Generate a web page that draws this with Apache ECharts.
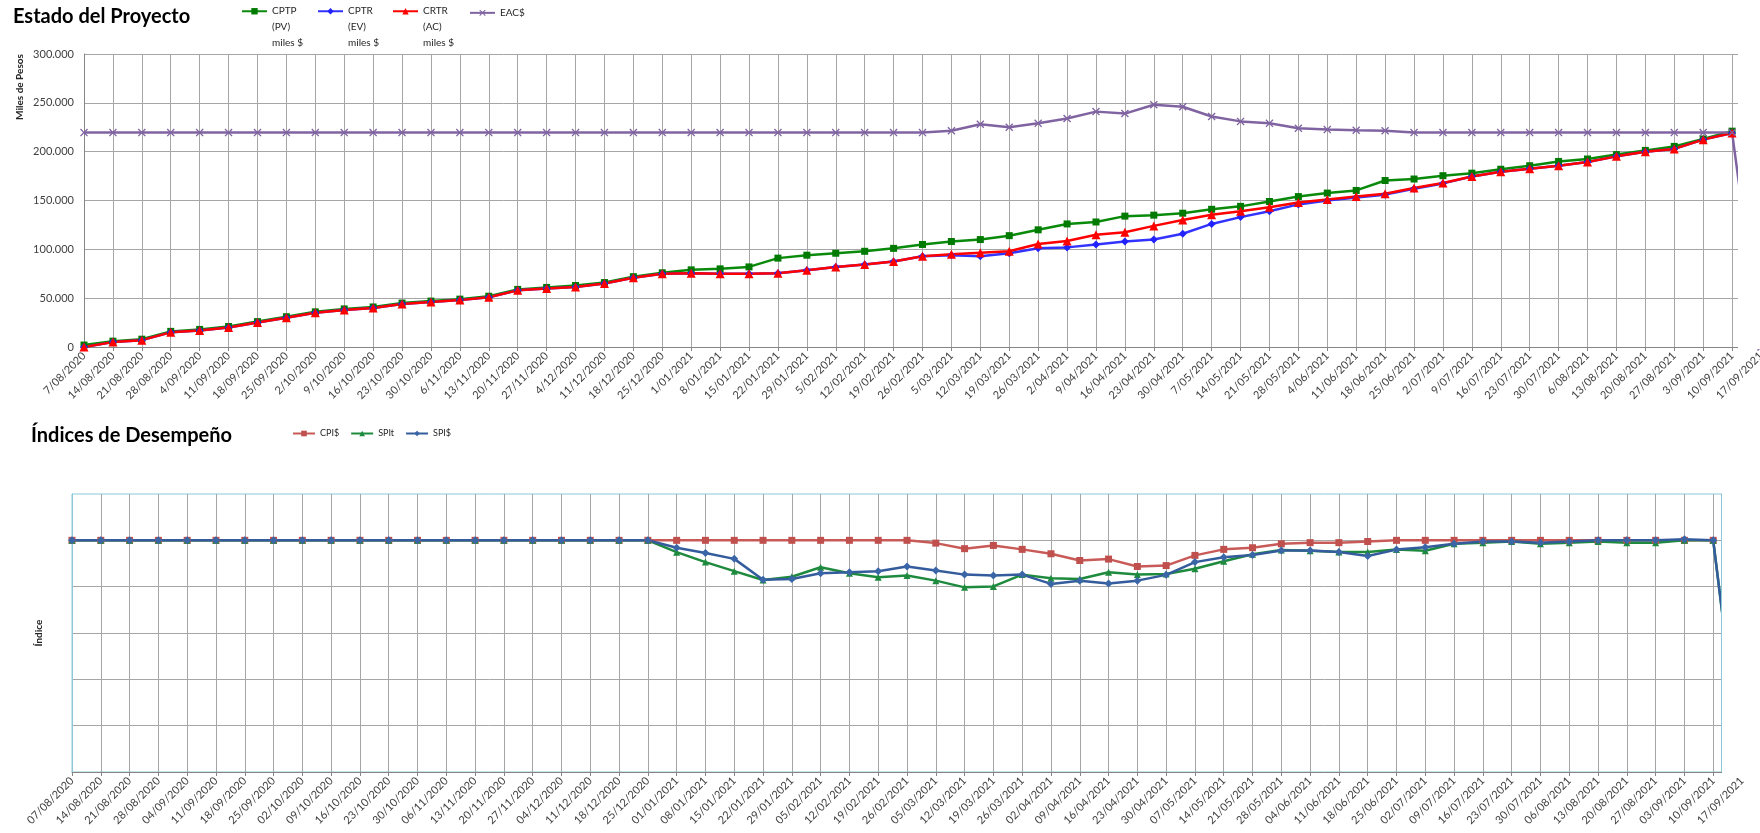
<!DOCTYPE html>
<html>
<head>
<meta charset="utf-8">
<script src="https://cdn.jsdelivr.net/npm/echarts@6/dist/echarts.min.js"></script>
<style>
html,body{margin:0;padding:0;background:#fff;}
#chart{width:1760px;height:833px;}
</style>
</head>
<body>
<div id="chart"></div>
<script>
const fechas = ['07/08/2020','14/08/2020','21/08/2020','28/08/2020','04/09/2020','11/09/2020','18/09/2020','25/09/2020','02/10/2020','09/10/2020','16/10/2020','23/10/2020','30/10/2020','06/11/2020','13/11/2020','20/11/2020','27/11/2020','04/12/2020','11/12/2020','18/12/2020','25/12/2020','01/01/2021','08/01/2021','15/01/2021','22/01/2021','29/01/2021','05/02/2021','12/02/2021','19/02/2021','26/02/2021','05/03/2021','12/03/2021','19/03/2021','26/03/2021','02/04/2021','09/04/2021','16/04/2021','23/04/2021','30/04/2021','07/05/2021','14/05/2021','21/05/2021','28/05/2021','04/06/2021','11/06/2021','18/06/2021','25/06/2021','02/07/2021','09/07/2021','16/07/2021','23/07/2021','30/07/2021','06/08/2021','13/08/2021','20/08/2021','27/08/2021','03/09/2021','10/09/2021','17/09/2021'];

// Estado del Proyecto (miles $)
const cptp = [2000,6000,8000,16000,18000,21000,26000,31000,36000,39000,41000,45000,47000,49000,52000,59000,61000,63000,66000,72000,76000,79000,80000,82000,91000,94000,96000,98000,101000,105000,108000,110000,114000,120000,126000,128000,134000,135000,137000,141000,144000,149000,154000,157600,160300,170500,172000,175400,178000,182000,185600,190000,192500,197000,201300,205400,213000,221000,null];
const cptr = [0,5000,7000,15000,17000,20000,25000,30000,35000,38000,40000,44000,46000,48000,51000,58000,60000,61500,65000,71000,75000,75500,75000,75000,75500,78500,82000,84500,87500,93000,94000,93000,96000,101000,102000,105000,108000,110000,116000,126000,133000,139000,146000,150000,153000,156000,162000,167500,174600,179500,182500,185600,189400,195200,200000,202800,212300,219200,null];
const crtr = [0,5000,7000,15000,17000,20000,25000,30000,35000,38000,40000,44000,46000,48000,51000,58000,60000,61500,65000,71000,75000,75500,75000,75000,75500,78500,82000,84500,87500,93000,95000,96500,98000,105500,108500,115000,117500,124000,130000,135500,139000,143000,148000,151000,154000,157000,162700,167900,174600,179500,182500,185600,189400,195200,200000,202800,212300,219200,null];
const eac = [219500,219500,219500,219500,219500,219500,219500,219500,219500,219500,219500,219500,219500,219500,219500,219500,219500,219500,219500,219500,219500,219500,219500,219500,219500,219500,219500,219500,219500,219500,221500,228000,225000,229000,234000,241000,239000,248000,246000,236000,231000,229000,224000,222600,222000,221500,219500,219500,219500,219500,219500,219500,219500,219500,219500,219500,219500,219500,0];

// Índices de Desempeño
const cpi = [1,1,1,1,1,1,1,1,1,1,1,1,1,1,1,1,1,1,1,1,1,1,1,1,1,1,1,1,1,1,0.988,0.964,0.978,0.961,0.942,0.913,0.919,0.887,0.891,0.935,0.961,0.968,0.985,0.99,0.99,0.995,1,1,1,1,1,1,1,1,1,1,1,1,null];
const spit = [1,1,1,1,1,1,1,1,1,1,1,1,1,1,1,1,1,1,1,1,1,0.949,0.906,0.867,0.829,0.843,0.884,0.858,0.841,0.848,0.826,0.797,0.801,0.852,0.836,0.833,0.862,0.852,0.855,0.877,0.91,0.94,0.958,0.955,0.95,0.95,0.96,0.955,0.985,0.99,0.995,0.985,0.99,0.995,0.99,0.99,1,1,0];
const spis = [1,1,1,1,1,1,1,1,1,1,1,1,1,1,1,1,1,1,1,1,1,0.968,0.945,0.92,0.83,0.833,0.858,0.862,0.867,0.887,0.87,0.852,0.848,0.852,0.812,0.826,0.814,0.826,0.851,0.906,0.927,0.937,0.956,0.956,0.95,0.932,0.96,0.97,0.985,0.995,0.995,0.99,0.995,1,1,1,1.005,1,0];

const yTicksTop = [0,50000,100000,150000,200000,250000,300000];

const FONT = 'Lato, "Open Sans", sans-serif';
const GRID_GRAY = '#A6A6A6';
const xMark = 'path://M0,1.2 L1.2,0 L5,3.8 L8.8,0 L10,1.2 L6.2,5 L10,8.8 L8.8,10 L5,6.2 L1.2,10 L0,8.8 L3.8,5 Z';

const nameCPTP = 'CPTP\n(PV)\nmiles $';
const nameCPTR = 'CPTR\n(EV)\nmiles $';
const nameCRTR = 'CRTR\n(AC)\nmiles $';
const nameEAC = 'EAC$';

function fmtMiles(v){ return String(v).replace(/\B(?=(\d{3})+(?!\d))/g, '.'); }

// leading blank lines so the icon sits on the first text line
function legendFmt(name){
  const n = name.split('\n').length - 1;
  return '\n'.repeat(n) + name;
}

const topLegendBase = {
  orient: 'horizontal', top: -28, padding: 0, itemWidth: 25, itemHeight: 8, itemGap: 0,
  formatter: legendFmt,
  textStyle: {fontFamily: FONT, fontSize: 10, color: '#262626', lineHeight: 15.7}
};

const chart = echarts.init(document.getElementById('chart'), null, {renderer: 'canvas'});
chart.setOption({
  animation: false,
  backgroundColor: '#fff',
  textStyle: {fontFamily: FONT},
  title: [
    {text: 'Estado del Proyecto', left: 8, top: 2, textStyle: {fontFamily: FONT, fontSize: 20, fontWeight: 'bold', color: '#000'}},
    {text: 'Índices de Desempeño', left: 26, top: 421, textStyle: {fontFamily: FONT, fontSize: 20, fontWeight: 'bold', color: '#000'}}
  ],
  legend: [
    Object.assign({}, topLegendBase, {left: 241, data: [nameCPTP]}),
    Object.assign({}, topLegendBase, {left: 317, data: [nameCPTR]}),
    Object.assign({}, topLegendBase, {left: 392, data: [nameCRTR]}),
    Object.assign({}, topLegendBase, {left: 469, top: 5, data: [nameEAC]}),
    {data: ['CPI$','SPIt','SPI$'], left: 292, top: 429, padding: 0, itemWidth: 22, itemHeight: 7, itemGap: 11,
     textStyle: {fontFamily: FONT, fontSize: 9, color: '#262626'}}
  ],
  grid: [
    {left: 84, right: -1, top: 54, bottom: 486, outerBoundsMode: 'none', containLabel: false},
    {left: 72, right: 18, top: 494, bottom: 61, outerBoundsMode: 'none', containLabel: false,
     show: true, borderColor: '#8CC8D8', borderWidth: 1, backgroundColor: 'transparent'}
  ],
  xAxis: [
    {type: 'category', gridIndex: 0, data: fechas, boundaryGap: false,
     axisLine: {lineStyle: {color: '#868686', width: 1}},
     axisTick: {show: true, length: 4, lineStyle: {color: '#868686'}},
     splitLine: {show: true, lineStyle: {color: GRID_GRAY, width: 1}},
     axisLabel: {interval: 0, rotate: 45, fontSize: 11, color: '#404040', margin: 7, fontFamily: FONT,
       formatter: v => v.replace(/^0/, '')}},
    {type: 'category', gridIndex: 1, data: fechas, boundaryGap: false,
     axisLine: {lineStyle: {color: '#868686', width: 1}},
     axisTick: {show: true, length: 4, lineStyle: {color: '#868686'}},
     splitLine: {show: true, lineStyle: {color: GRID_GRAY, width: 1}},
     axisLabel: {interval: 0, rotate: 45, fontSize: 11, color: '#404040', margin: 7, fontFamily: FONT}}
  ],
  yAxis: [
    {type: 'value', gridIndex: 0, min: yTicksTop[0], max: yTicksTop[yTicksTop.length-1], interval: 50000,
     axisLine: {show: true, lineStyle: {color: '#868686'}},
     axisTick: {show: false},
     splitLine: {show: true, lineStyle: {color: GRID_GRAY, width: 1}},
     axisLabel: {fontSize: 11, color: '#404040', margin: 10, fontFamily: FONT, formatter: fmtMiles}},
    {type: 'value', gridIndex: 1, min: 0, max: 1.2, interval: 0.2,
     name: 'Índice', nameLocation: 'middle', nameGap: 28,
     nameTextStyle: {fontFamily: FONT, fontSize: 10, fontWeight: 'bold', color: '#262626'},
     axisLine: {show: true, lineStyle: {color: '#8CC8D8'}},
     axisTick: {show: false},
     axisLabel: {show: false},
     splitLine: {show: true, showMaxLine: false, lineStyle: {color: GRID_GRAY, width: 1}}}
  ],
  series: [
    {name: nameCPTP, type: 'line', xAxisIndex: 0, yAxisIndex: 0, data: cptp, symbol: 'rect', symbolSize: 7,
     lineStyle: {color: '#0A8A0A', width: 2.5}, itemStyle: {color: '#007A00'}},
    {name: nameCPTR, type: 'line', xAxisIndex: 0, yAxisIndex: 0, data: cptr, symbol: 'diamond', symbolSize: 8,
     lineStyle: {color: '#3333FF', width: 2.5}, itemStyle: {color: '#2222FF'}},
    {name: nameCRTR, type: 'line', xAxisIndex: 0, yAxisIndex: 0, data: crtr, symbol: 'triangle', symbolSize: 9,
     lineStyle: {color: '#FF0000', width: 2.5}, itemStyle: {color: '#FF0000'}},
    {name: nameEAC, type: 'line', xAxisIndex: 0, yAxisIndex: 0, data: eac, symbol: xMark, symbolSize: 8,
     lineStyle: {color: '#8064A2', width: 2.5}, itemStyle: {color: '#8064A2'}},
    {name: 'CPI$', type: 'line', xAxisIndex: 1, yAxisIndex: 1, data: cpi, symbol: 'rect', symbolSize: 7,
     lineStyle: {color: '#C85A57', width: 2.5}, itemStyle: {color: '#C0504D'}},
    {name: 'SPIt', type: 'line', xAxisIndex: 1, yAxisIndex: 1, data: spit, symbol: 'triangle', symbolSize: 7,
     lineStyle: {color: '#1E8A3E', width: 2.5}, itemStyle: {color: '#1E8A3E'}},
    {name: 'SPI$', type: 'line', xAxisIndex: 1, yAxisIndex: 1, data: spis, symbol: 'diamond', symbolSize: 8,
     lineStyle: {color: '#345C9C', width: 2.5}, itemStyle: {color: '#3A66A8'}}
  ],
  graphic: [
    {type: 'text', x: 20, y: 87, rotation: Math.PI/2, z: 100,
     style: {text: 'Miles de Pesos', font: 'bold 10px ' + FONT, fill: '#262626', textAlign: 'center', textVerticalAlign: 'middle'}},
    {type: 'rect', z: 100, shape: {x: 1738, y: 46, width: 30, height: 303}, style: {fill: '#fff'}},
    {type: 'rect', z: 100, shape: {x: 1722, y: 488, width: 40, height: 290}, style: {fill: '#fff'}},
    {type: 'line', z: 101, shape: {x1: 1721.5, y1: 494, x2: 1721.5, y2: 772}, style: {stroke: '#8CC8D8', lineWidth: 1}}
  ]
});
</script>
</body>
</html>
